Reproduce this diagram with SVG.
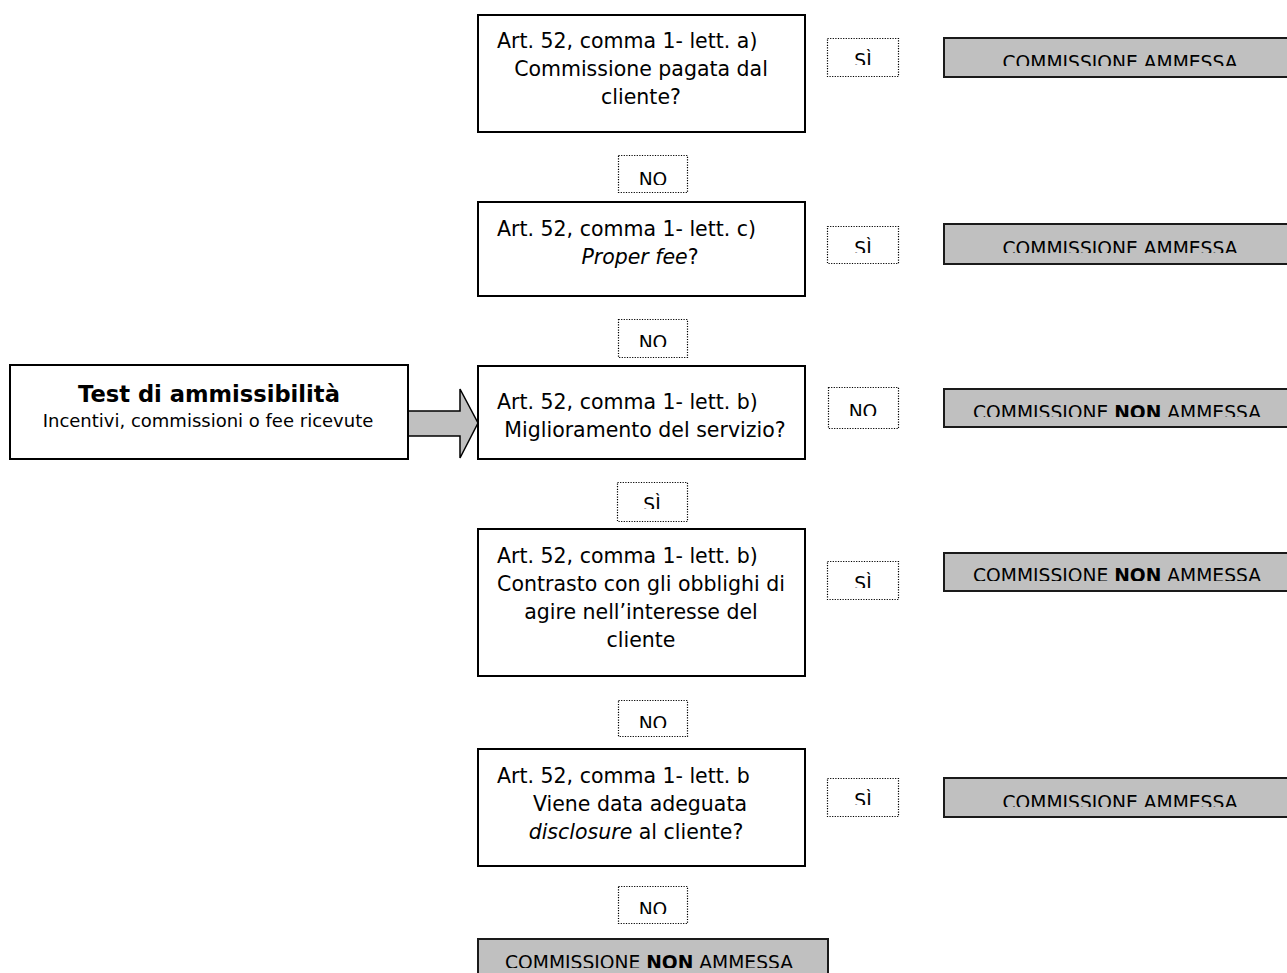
<svg xmlns="http://www.w3.org/2000/svg" width="1287" height="973" viewBox="0 0 1287 973">
<style>
text{font-family:"DejaVu Sans","Verdana",sans-serif;fill:#000}
.box{fill:#fff;stroke:#000;stroke-width:2}
.res{fill:#c0c0c0;stroke:#1a1a1a;stroke-width:2}
.lab{fill:#fff;stroke:#000;stroke-width:1.2;stroke-dasharray:1.2 1.4}
.t{font-size:20.5px}
.s{font-size:18.7px;text-anchor:middle}
.c{text-anchor:middle}
.i{font-style:italic}
.b{font-weight:bold}
.arrow{fill:#c0c0c0;stroke:#000;stroke-width:1.5;stroke-linejoin:miter}
</style>
<defs>
<clipPath id="c1"><rect x="944" y="38" width="343" height="28"/></clipPath>
<clipPath id="c2"><rect x="944" y="224" width="343" height="29"/></clipPath>
<clipPath id="c3"><rect x="944" y="389" width="343" height="28"/></clipPath>
<clipPath id="c4"><rect x="944" y="553" width="343" height="28"/></clipPath>
<clipPath id="c5"><rect x="944" y="778" width="343" height="29"/></clipPath>
<clipPath id="c6"><rect x="478" y="939" width="350" height="29"/></clipPath>
<clipPath id="l1"><rect x="827" y="38" width="72" height="27"/></clipPath>
<clipPath id="l2"><rect x="618" y="155" width="70" height="30"/></clipPath>
<clipPath id="l3"><rect x="827" y="226" width="72" height="27"/></clipPath>
<clipPath id="l4"><rect x="618" y="319" width="70" height="28"/></clipPath>
<clipPath id="l5"><rect x="828" y="387" width="71" height="29"/></clipPath>
<clipPath id="l6"><rect x="617" y="482" width="71" height="27"/></clipPath>
<clipPath id="l7"><rect x="827" y="561" width="72" height="27"/></clipPath>
<clipPath id="l8"><rect x="618" y="700" width="70" height="28"/></clipPath>
<clipPath id="l9"><rect x="827" y="778" width="72" height="27"/></clipPath>
<clipPath id="l10"><rect x="618" y="886" width="70" height="28"/></clipPath>
</defs>

<g id="connectors">
<polygon class="arrow" points="408,411 460,411 460,389 478,423 460,458 460,436 408,436"/>
</g>

<g id="start">
<rect class="box" x="10" y="365" width="398" height="94"/>
<text class="c b" x="209" y="402" font-size="22.6">Test di ammissibilità</text>
<text class="c" x="208" y="427" font-size="18">Incentivi, commissioni o fee ricevute</text>
</g>

<g id="q1">
<rect class="box" x="478" y="15" width="327" height="117"/>
<text class="t" x="497" y="48">Art. 52, comma 1- lett. a)</text>
<text class="t c" x="641" y="76">Commissione pagata dal</text>
<text class="t c" x="641" y="104">cliente?</text>
</g>

<g id="q2">
<rect class="box" x="478" y="202" width="327" height="94"/>
<text class="t" x="497" y="236">Art. 52, comma 1- lett. c)</text>
<text class="t c" x="640" y="264"><tspan class="i">Proper fee</tspan>?</text>
</g>

<g id="q3">
<rect class="box" x="478" y="366" width="327" height="93"/>
<text class="t" x="497" y="409">Art. 52, comma 1- lett. b)</text>
<text class="t c" x="645" y="437">Miglioramento del servizio?</text>
</g>

<g id="q4">
<rect class="box" x="478" y="529" width="327" height="147"/>
<text class="t" x="497" y="563">Art. 52, comma 1- lett. b)</text>
<text class="t c" x="641" y="591">Contrasto con gli obblighi di</text>
<text class="t c" x="641" y="619">agire nell’interesse del</text>
<text class="t c" x="641" y="647">cliente</text>
</g>

<g id="q5">
<rect class="box" x="478" y="749" width="327" height="117"/>
<text class="t" x="497" y="783">Art. 52, comma 1- lett. b</text>
<text class="t c" x="640" y="811">Viene data adeguata</text>
<text class="t c" x="636" y="839"><tspan class="i">disclosure</tspan> al cliente?</text>
</g>

<g id="r1">
<rect class="res" x="944" y="38" width="350" height="39"/>
<text class="s" x="1120" y="68.5" clip-path="url(#c1)">COMMISSIONE AMMESSA</text>
</g>
<g id="r2">
<rect class="res" x="944" y="224" width="350" height="40"/>
<text class="s" x="1120" y="255" clip-path="url(#c2)">COMMISSIONE AMMESSA</text>
</g>
<g id="r3">
<rect class="res" x="944" y="389" width="350" height="38"/>
<text class="s" x="1117" y="419" clip-path="url(#c3)">COMMISSIONE <tspan class="b">NON</tspan> AMMESSA</text>
</g>
<g id="r4">
<rect class="res" x="944" y="553" width="350" height="38"/>
<text class="s" x="1117" y="582" clip-path="url(#c4)">COMMISSIONE <tspan class="b">NON</tspan> AMMESSA</text>
</g>
<g id="r5">
<rect class="res" x="944" y="778" width="350" height="39"/>
<text class="s" x="1120" y="809" clip-path="url(#c5)">COMMISSIONE AMMESSA</text>
</g>
<g id="r6">
<rect class="res" x="478" y="939" width="350" height="50"/>
<text class="s" x="649" y="969" clip-path="url(#c6)">COMMISSIONE <tspan class="b">NON</tspan> AMMESSA</text>
</g>

<g id="label-si-1"><rect class="lab" x="827.5" y="38.5" width="71" height="38"/><text class="s" x="863" y="67" clip-path="url(#l1)">SÌ</text></g>
<g id="label-no-1"><rect class="lab" x="618.5" y="155.5" width="69" height="37"/><text class="s" x="653" y="186" clip-path="url(#l2)">NO</text></g>
<g id="label-si-2"><rect class="lab" x="827.5" y="226.5" width="71" height="37"/><text class="s" x="863" y="255" clip-path="url(#l3)">SÌ</text></g>
<g id="label-no-2"><rect class="lab" x="618.5" y="319.5" width="69" height="38"/><text class="s" x="653" y="348.5" clip-path="url(#l4)">NO</text></g>
<g id="label-no-3"><rect class="lab" x="828.5" y="387.5" width="70" height="41"/><text class="s" x="863" y="418" clip-path="url(#l5)">NO</text></g>
<g id="label-si-3"><rect class="lab" x="617.5" y="482.5" width="70" height="39"/><text class="s" x="652" y="511" clip-path="url(#l6)">SÌ</text></g>
<g id="label-si-4"><rect class="lab" x="827.5" y="561.5" width="71" height="38"/><text class="s" x="863" y="590" clip-path="url(#l7)">SÌ</text></g>
<g id="label-no-4"><rect class="lab" x="618.5" y="700.5" width="69" height="36"/><text class="s" x="653" y="729.5" clip-path="url(#l8)">NO</text></g>
<g id="label-si-5"><rect class="lab" x="827.5" y="778.5" width="71" height="38"/><text class="s" x="863" y="807" clip-path="url(#l9)">SÌ</text></g>
<g id="label-no-5"><rect class="lab" x="618.5" y="886.5" width="69" height="37"/><text class="s" x="653" y="915.5" clip-path="url(#l10)">NO</text></g>
</svg>
